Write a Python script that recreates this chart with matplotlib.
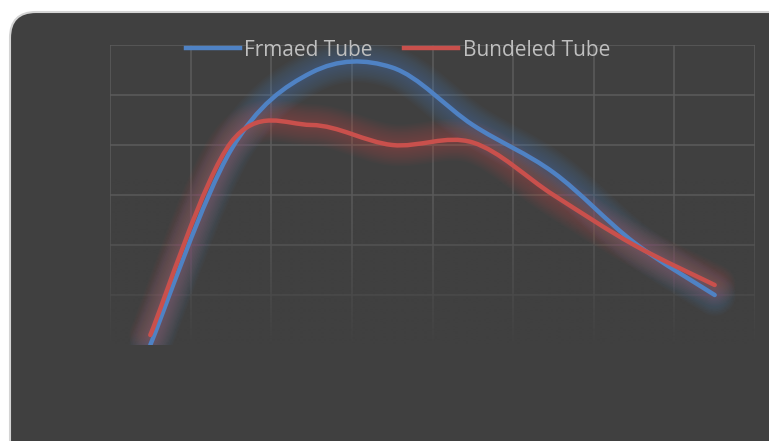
import numpy as np
import matplotlib
matplotlib.use('Agg')
import matplotlib.pyplot as plt
from matplotlib.path import Path
from matplotlib.patches import PathPatch, FancyBboxPatch
from matplotlib.lines import Line2D

# Series values (one per category, 8 categories, no axis labels shown)
positions = np.arange(8)
frmaed_tube = [0.0, 3.9, 5.45, 5.55, 4.4, 3.45, 2.05, 1.0]
bundeled_tube = [0.2, 4.05, 4.4, 4.0, 4.05, 3.0, 2.0, 1.2]
series_names = ['Frmaed Tube', 'Bundeled Tube']
series_colors = ['#4f82c4', '#c9504c']

BG = '#404040'
GRID = '#5c5c5c'
TEXT = '#bfbfbf'


def smooth_path(xs, ys):
    """Bezier path through the points, Excel-style smoothed line."""
    pts = np.column_stack([xs, ys]).astype(float)
    n = len(pts)
    verts = [pts[0]]
    codes = [Path.MOVETO]
    for i in range(n - 1):
        p0 = pts[max(i - 1, 0)]
        p1 = pts[i]
        p2 = pts[i + 1]
        p3 = pts[min(i + 2, n - 1)]
        verts += [p1 + (p2 - p0) / 6, p2 - (p3 - p1) / 6, p2]
        codes += [Path.CURVE4] * 3
    return Path(verts, codes)


fig = plt.figure(figsize=(7.69, 4.41), dpi=100, facecolor='white')

# Rounded dark chart area, kept behind the axes
frame = FancyBboxPatch((10, -30), 800, 459, boxstyle='round,pad=0,rounding_size=26',
                       facecolor=BG, edgecolor='#d4d4d4', linewidth=1.5, transform=None,
                       zorder=-10)
fig.add_artist(frame)

ax = fig.add_axes([110 / 769, 1 - 345 / 441, 645 / 769, 300 / 441])
ax.patch.set_visible(False)
ax.set_xticks(np.arange(-0.5, 8, 1))
ax.set_yticks(np.arange(0, 7, 1))
ax.tick_params(length=0, labelbottom=False, labelleft=False)
for s in ax.spines.values():
    s.set_visible(False)
ax.set_axisbelow(True)
ax.grid(True, color=GRID, linewidth=1.1)

# Grid fades out towards the bottom of the plot area
fade = np.zeros((100, 1, 4))
fade[..., :3] = matplotlib.colors.to_rgb(BG)
fade[:, 0, 3] = np.linspace(0, 1, 100) ** 1.3
ax.imshow(fade, extent=(-0.6, 7.6, -0.05, 3.4), origin='upper', aspect='auto', zorder=1,
          interpolation='bilinear')
ax.set_ylim(0, 6)
ax.set_xlim(-0.5, 7.5)

for vals, color in zip([frmaed_tube, bundeled_tube], series_colors):
    path = smooth_path(positions, vals)
    # soft glow
    for w in np.linspace(30, 6, 12):
        ax.add_patch(PathPatch(path, fill=False, edgecolor=color, lw=w, alpha=0.035,
                               capstyle='round', joinstyle='round', zorder=2))

for vals, color in zip([frmaed_tube, bundeled_tube], series_colors):
    path = smooth_path(positions, vals)
    ax.add_patch(PathPatch(path, fill=False, edgecolor=color, lw=3.2,
                           capstyle='round', joinstyle='round', zorder=3))

handles = [Line2D([], [], color=c, lw=3.2) for c in series_colors]
leg = fig.legend(handles, series_names, loc='center', bbox_to_anchor=(398 / 769, 1 - 50 / 441),
                 ncol=2, frameon=False, handlelength=2.6, handletextpad=0.2,
                 columnspacing=1.5, borderpad=0, prop={'family': 'Open Sans', 'size': 15})
for t in leg.get_texts():
    t.set_color(TEXT)

fig.savefig('out.png', dpi=100, facecolor='white')
